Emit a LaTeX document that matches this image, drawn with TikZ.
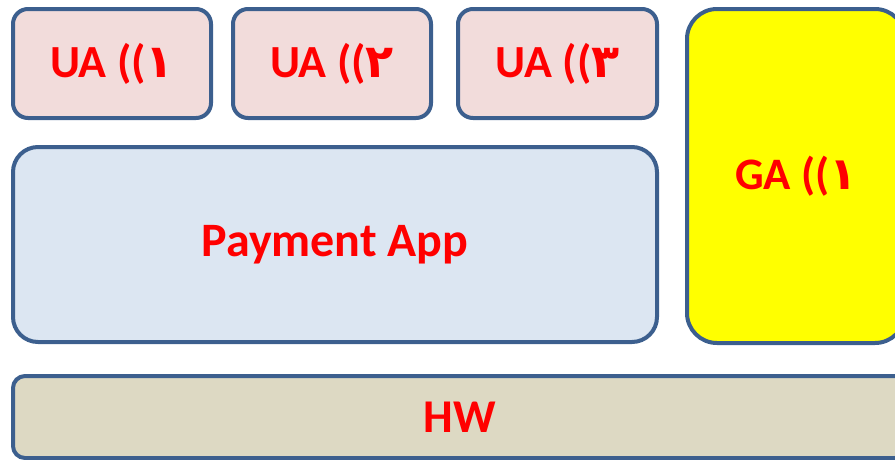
\documentclass[tikz,border=0pt]{standalone}
\usepackage{fontspec}
\setmainfont{Carlito}
\newfontfamily\digfont{DejaVu Sans}
\definecolor{bordc}{HTML}{3C5F8E}
\definecolor{uafill}{HTML}{F2DCDB}
\definecolor{payfill}{HTML}{DCE6F2}
\definecolor{hwfill}{HTML}{DDD9C3}
\definecolor{gafill}{RGB}{255,255,0}
\definecolor{txtred}{HTML}{FF0000}
\begin{document}
\begin{tikzpicture}[x=1pt,y=-1pt,
  box/.style={draw=bordc,line width=4pt,rounded corners=#1,inner sep=0pt,text=txtred},
  box/.default=15pt,
  big/.style={font=\bfseries\fontsize{#1}{#1}\selectfont}]
\useasboundingbox (0,0) rectangle (895,459);
\clip (0,0) rectangle (895,459);
\node[box=15pt,big=46,fill=uafill,minimum width=198pt,minimum height=109pt] (ua1) at (112,63.5) {UA ((\digfont ١};
\node[box=15pt,big=46,fill=uafill,minimum width=198pt,minimum height=109pt] (ua2) at (332,63.5) {UA ((\digfont ٢};
\node[box=15pt,big=46,fill=uafill,minimum width=199pt,minimum height=109pt] (ua3) at (557.5,63.5) {UA ((\digfont ٣};
\node[box=30pt,big=45,fill=gafill,minimum width=218pt,minimum height=334pt] (ga) at (796,176) {GA ((\digfont ١};
\node[box=25pt,big=48,fill=payfill,minimum width=644pt,minimum height=195pt] (pay) at (335,244.5) {Payment App};
\node[box=12pt,big=47,fill=hwfill,minimum width=894pt,minimum height=82pt] (hw) at (460,417) {HW};
\end{tikzpicture}
\end{document}
